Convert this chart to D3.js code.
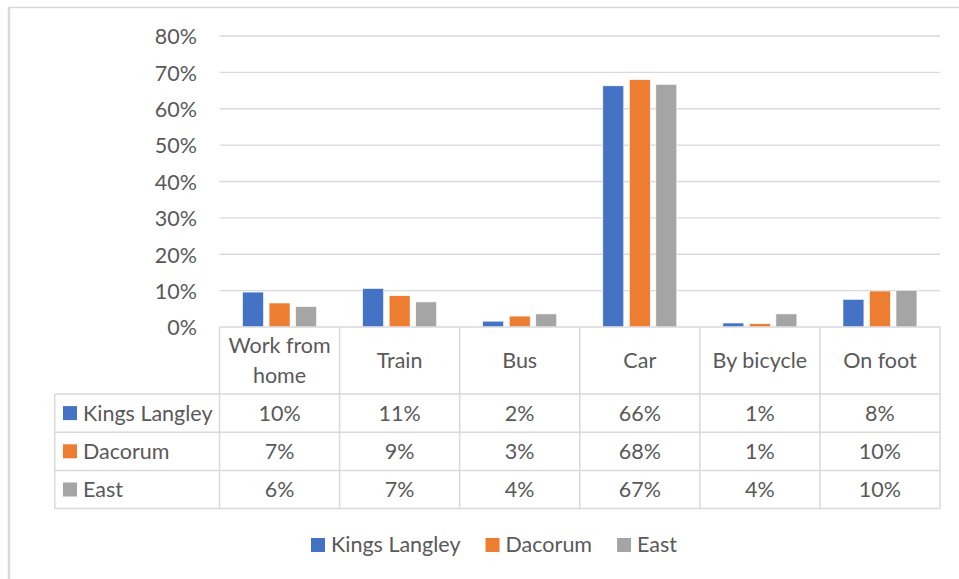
<!DOCTYPE html>
<html>
<head>
<meta charset="utf-8">
<script src="https://cdn.jsdelivr.net/npm/d3@7"></script>
<style>
  html, body { margin: 0; padding: 0; background: #fff; }
  svg { display: block; }
  text { font-family: Lato, "Liberation Sans", sans-serif; fill: #595959; }
</style>
</head>
<body>
<svg id="chart" width="959" height="579"></svg>
<script>
// ---- data ----
const categories = ["Work from home", "Train", "Bus", "Car", "By bicycle", "On foot"];
const seriesNames = ["Kings Langley", "Dacorum", "East"];
const kingsLangley = [0.096, 0.106, 0.016, 0.663, 0.011, 0.076];
const dacorum      = [0.066, 0.086, 0.030, 0.680, 0.009, 0.099];
const east         = [0.056, 0.069, 0.036, 0.667, 0.036, 0.101];
const yTicks = [0, 0.1, 0.2, 0.3, 0.4, 0.5, 0.6, 0.7, 0.8];
const colors = ["#4472C4", "#ED7D31", "#A5A5A5"];

const seriesValues = [kingsLangley, dacorum, east];

// ---- layout ----
const W = 959, H = 579;
const plotLeft = 219.5, plotRight = 940;
const yZero = 327, yTop = 36;
const headerBottom = 394;
const rowH = 38.2;
const tableLeft = 54.7;
const gridColor = "#d9d9d9";
const fontSize = 21.5;

const svg = d3.select("#chart");

// outer frame
svg.append("rect")
  .attr("x", 9).attr("y", 7.5).attr("width", W + 20).attr("height", H + 20)
  .attr("fill", "none").attr("stroke", gridColor).attr("stroke-width", 1.5);
svg.append("line").attr("x1", 9).attr("x2", 9).attr("y1", 7.5).attr("y2", H)
  .attr("stroke", gridColor).attr("stroke-width", 2.5);

const x = d3.scaleBand().domain(categories).range([plotLeft, plotRight]).padding(0);
const xs = d3.scaleBand().domain(seriesNames).range([0, x.bandwidth()])
  .paddingInner(0.21).paddingOuter(0.87);
const y = d3.scaleLinear().domain([0, 0.8]).range([yZero, yTop]);

// gridlines
svg.append("g").selectAll("line").data(yTicks.filter(d => d > 0)).join("line")
  .attr("x1", plotLeft).attr("x2", plotRight)
  .attr("y1", d => y(d)).attr("y2", d => y(d))
  .attr("stroke", gridColor).attr("stroke-width", 1.3);

// y axis labels
const yAxis = d3.axisLeft(y).tickValues(yTicks).tickFormat(d3.format(".0%")).tickSize(0).tickPadding(0);
const yg = svg.append("g").attr("transform", `translate(197,0)`).call(yAxis);
yg.select(".domain").remove();
yg.selectAll("text").attr("font-size", fontSize).attr("font-family", "Lato, 'Liberation Sans', sans-serif")
  .attr("fill", "#595959").attr("dy", "0.36em");

// bars
const barData = [];
categories.forEach((c, i) => {
  seriesNames.forEach((s, j) => barData.push({ c, s, v: seriesValues[j][i], j }));
});
svg.append("g").selectAll("rect").data(barData).join("rect")
  .attr("x", d => x(d.c) + xs(d.s))
  .attr("width", xs.bandwidth())
  .attr("y", d => y(d.v))
  .attr("height", d => y(0) - y(d.v))
  .attr("fill", d => colors[d.j])
  .attr("stroke", "#fff").attr("stroke-width", 0.6);

// ---- data table ----
const tbl = svg.append("g");
const tableBottom = headerBottom + rowH * seriesNames.length;
// horizontal lines
tbl.append("line").attr("x1", plotLeft).attr("x2", plotRight).attr("y1", yZero).attr("y2", yZero)
  .attr("stroke", gridColor).attr("stroke-width", 1.5);
for (let r = 0; r <= seriesNames.length; r++) {
  const yy = headerBottom + r * rowH;
  tbl.append("line").attr("x1", tableLeft).attr("x2", plotRight).attr("y1", yy).attr("y2", yy)
    .attr("stroke", gridColor).attr("stroke-width", 1.5);
}
// vertical lines
tbl.append("line").attr("x1", tableLeft).attr("x2", tableLeft).attr("y1", headerBottom).attr("y2", tableBottom)
  .attr("stroke", gridColor).attr("stroke-width", 1.5);
const bounds = categories.map(c => x(c)).concat([plotRight]);
tbl.selectAll(".vl").data(bounds).join("line")
  .attr("x1", d => d).attr("x2", d => d).attr("y1", yZero).attr("y2", tableBottom)
  .attr("stroke", gridColor).attr("stroke-width", 1.5);

// header labels with wrapping
const headerMid = (yZero + headerBottom) / 2;
categories.forEach(c => {
  const cx = x(c) + x.bandwidth() / 2;
  const t = tbl.append("text").attr("x", cx).attr("text-anchor", "middle").attr("font-size", fontSize);
  const words = c.split(" ");
  let lines = [], cur = "";
  const probe = tbl.append("text").attr("font-size", fontSize);
  words.forEach(w => {
    const test = cur ? cur + " " + w : w;
    probe.text(test);
    if (probe.node().getComputedTextLength() > 108 && cur) { lines.push(cur); cur = w; }
    else cur = test;
  });
  lines.push(cur);
  probe.remove();
  const lh = 30;
  const first = headerMid + 7.5 - (lines.length - 1) * lh / 2;
  lines.forEach((ln, k) => {
    t.append("tspan").attr("x", cx).attr("y", first + k * lh).text(ln);
  });
});

// rows
const fmt = d3.format(".0%");
seriesNames.forEach((s, j) => {
  const rowMid = headerBottom + j * rowH + rowH / 2;
  tbl.append("rect").attr("x", 63).attr("y", rowMid - 7).attr("width", 14).attr("height", 14).attr("fill", colors[j]);
  tbl.append("text").attr("x", 83).attr("y", rowMid + 7.5).attr("font-size", fontSize).text(s);
  categories.forEach((c, i) => {
    tbl.append("text").attr("x", x(c) + x.bandwidth() / 2).attr("y", rowMid + 7.5)
      .attr("text-anchor", "middle").attr("font-size", fontSize).text(fmt(seriesValues[j][i]));
  });
});

// ---- legend ----
const legend = svg.append("g");
const legendY = 552;
const items = legend.selectAll("g").data(seriesNames).join("g");
items.append("rect").attr("y", legendY - 14).attr("width", 14).attr("height", 14).attr("fill", (d, i) => colors[i]);
items.append("text").attr("x", 20).attr("y", legendY).attr("font-size", fontSize).text(d => d);
let widths = [];
items.each(function() { widths.push(20 + d3.select(this).select("text").node().getComputedTextLength()); });
const gap = 25;
let acc = 311;
items.attr("transform", (d, i) => { const tx = acc; acc += widths[i] + gap; return `translate(${tx},0)`; });
</script>
</body>
</html>
